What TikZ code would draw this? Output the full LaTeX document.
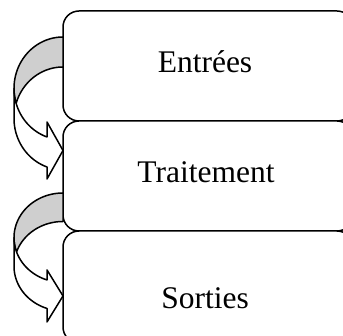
\documentclass[tikz,border=0pt]{standalone}
\usepackage{fontspec}
\setmainfont{Liberation Serif}
\newcommand{\bendarrow}[5]{%
  % #1 top y, #2 band thickness, #3 vertical radius, #4 upper barb, #5 lower barb
  \pgfmathsetmacro\arCy{#1+#3}%
  \pgfmathsetmacro\arCyy{#1+#2+#3}%
  \pgfmathsetmacro\arDy{0.9452*#3}%
  \pgfmathsetmacro\arYv{\arCy+\arDy}%
  \pgfmathsetmacro\arYw{\arCyy+\arDy}%
  \pgfmathsetmacro\arTi{180-asin(#2/(2*#3))}%
  \pgfmathsetmacro\arTj{180+asin(#2/(2*#3))}%
  \pgfmathsetmacro\arTip{(\arYv-#4+\arYw+#5)/2}%
  \filldraw[backband]
    plot[domain=270:\arTi, samples=50] ({63+49*cos(\x)},{\arCy+#3*sin(\x)})
    -- plot[domain=\arTj:270, samples=50] ({63+49*cos(\x)},{\arCyy+#3*sin(\x)})
    -- cycle;
  \filldraw[frontband]
    plot[domain=180:109.06, samples=40] ({63+49*cos(\x)},{\arCy+#3*sin(\x)})
    -- (47,{\arYv-#4}) -- (63,\arTip) -- (47,{\arYw+#5}) -- (47,\arYw)
    -- plot[domain=109.06:180, samples=40] ({63+49*cos(\x)},{\arCyy+#3*sin(\x)})
    -- cycle;
}
\begin{document}
\begin{tikzpicture}[x=1pt,y=-1pt,
  blockbox/.style={draw=black, fill=white, line width=1.5pt, rounded corners=16pt,
    minimum width=290pt, inner sep=0pt},
  label/.style={anchor=base, font=\fontsize{31.5}{36}\selectfont, inner sep=0pt},
  backband/.style={draw=black, fill=black!19, line width=1.5pt, line join=round},
  frontband/.style={draw=black, fill=white, line width=1.5pt, line join=round}]
\useasboundingbox (0,0) rectangle (343,336);
\clip (0,0) rectangle (343,336);
\node[blockbox, minimum height=110pt] (b1) at (208,66) {};
\node[blockbox, minimum height=110pt] (b2) at (208,176) {};
\node[blockbox, minimum height=112pt] (b3) at (208,287) {};
\node[label] (t1) at (205,73) {Entrées};
\node[label] (t2) at (206,182.7) {Traitement};
\node[label] (t3) at (205,309) {Sorties};
\bendarrow{37}{30}{51.4}{15}{12}
\bendarrow{193}{28.5}{44.7}{10}{13.5}
\end{tikzpicture}
\end{document}
